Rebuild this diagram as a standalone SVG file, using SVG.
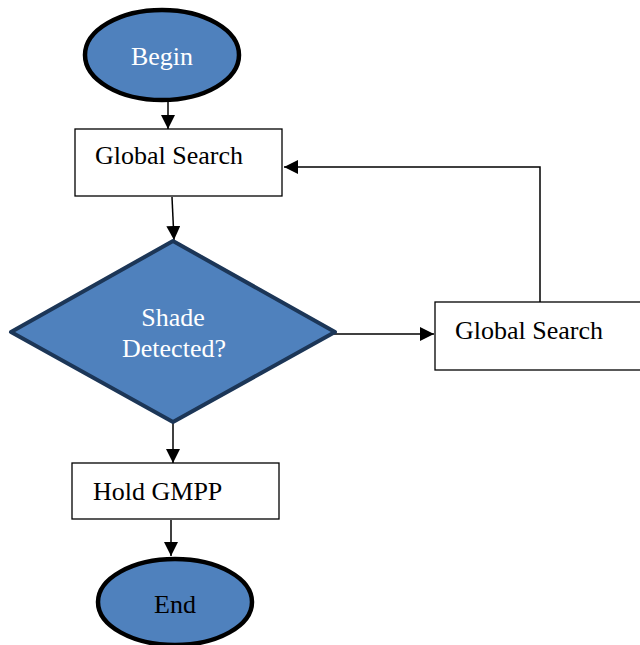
<svg xmlns="http://www.w3.org/2000/svg" width="640" height="645" viewBox="0 0 640 645">
<defs>
<marker id="ah" markerWidth="14" markerHeight="14" refX="14" refY="7" orient="auto" markerUnits="userSpaceOnUse">
<path d="M0,0 L14,7 L0,14 Z" fill="#000"/>
</marker>
<style>
.term{fill:#4F81BD;stroke:#000;stroke-width:4.5}
.box{fill:#fff;stroke:#000;stroke-width:1.3}
.dec{fill:#4F81BD;stroke:#1C3657;stroke-width:4;stroke-linejoin:round}
.t{font-family:"Liberation Serif","Times New Roman",serif;font-size:26px}
.w{fill:#fff}
.k{fill:#000}
.c{fill:none;stroke:#000;stroke-width:1.5}
</style>
</defs>
<rect width="640" height="645" fill="#fff"/>
<g id="connectors">
<line class="c" x1="168" y1="102" x2="168" y2="129" marker-end="url(#ah)"/>
<line class="c" x1="172" y1="197" x2="174" y2="240" marker-end="url(#ah)"/>
<line class="c" x1="334" y1="334" x2="434" y2="334" marker-end="url(#ah)"/>
<polyline class="c" points="540,302 540,167 284,167" marker-end="url(#ah)"/>
<line class="c" x1="173" y1="423" x2="173" y2="463" marker-end="url(#ah)"/>
<line class="c" x1="171" y1="520" x2="171" y2="556" marker-end="url(#ah)"/>
</g>
<g id="begin">
<ellipse class="term" cx="162" cy="55" rx="77" ry="45"/>
<text class="t w" x="162" y="65" text-anchor="middle">Begin</text>
</g>
<g id="global-search-1">
<rect class="box" x="75" y="129" width="207" height="67"/>
<text class="t k" x="95" y="164">Global Search</text>
</g>
<g id="shade-detected">
<polygon class="dec" points="173,241 335,332 173,422 11,332"/>
<text class="t w" x="173" y="326" text-anchor="middle">Shade</text>
<text class="t w" x="174" y="357" text-anchor="middle">Detected?</text>
</g>
<g id="global-search-2">
<rect class="box" x="435" y="302" width="210" height="68"/>
<text class="t k" x="455" y="339">Global Search</text>
</g>
<g id="hold-gmpp">
<rect class="box" x="72" y="463" width="207" height="56"/>
<text class="t k" x="93" y="500">Hold GMPP</text>
</g>
<g id="end">
<ellipse class="term" cx="175" cy="602" rx="77" ry="43"/>
<text class="t k" x="175" y="613" text-anchor="middle">End</text>
</g>
</svg>
